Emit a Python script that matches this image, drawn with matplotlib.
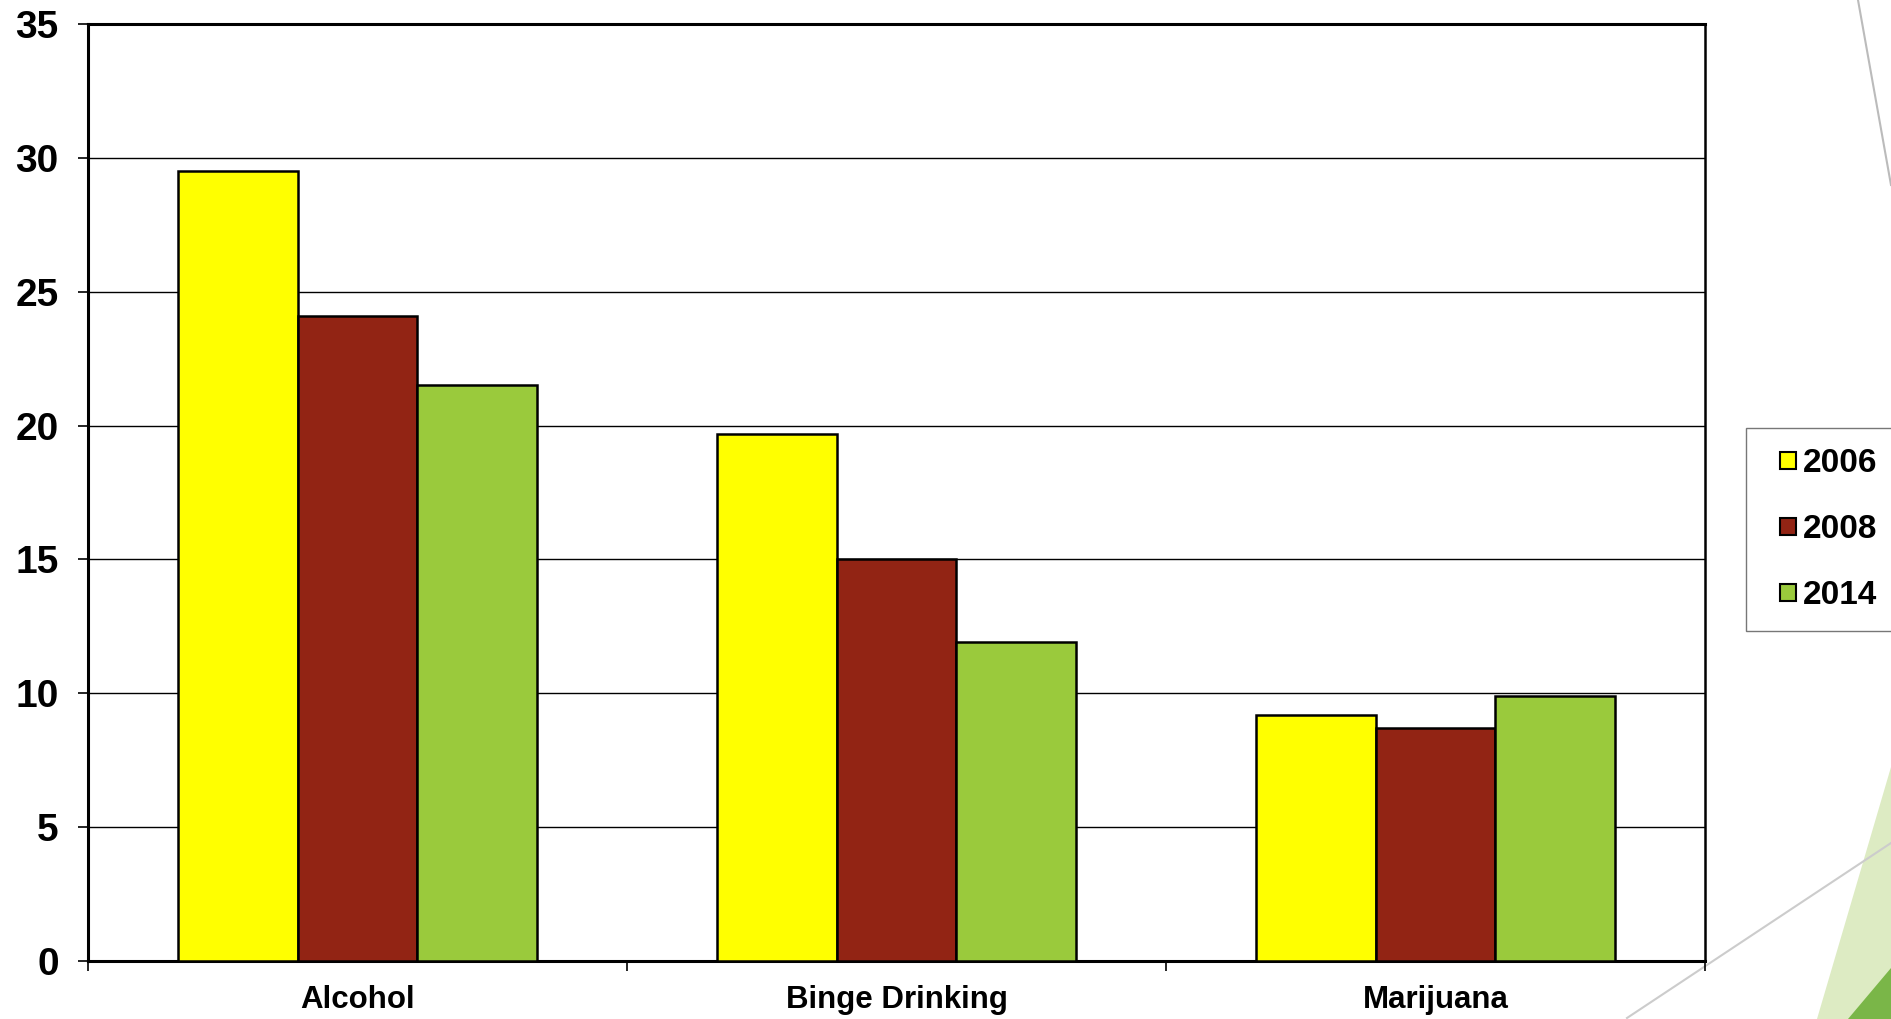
import numpy as np
import matplotlib
matplotlib.use('Agg')
import matplotlib.pyplot as plt
from matplotlib.patches import Polygon, Rectangle
from matplotlib.lines import Line2D
from matplotlib.container import BarContainer
from matplotlib.legend_handler import HandlerPatch, update_from_first_child

## Data
categories = ['Alcohol', 'Binge Drinking', 'Marijuana']
years = ['2006', '2008', '2014']
vals_2006 = [29.5, 19.7, 9.2]
vals_2008 = [24.1, 15.0, 8.7]
vals_2014 = [21.5, 11.9, 9.9]
yticks = [0, 5, 10, 15, 20, 25, 30, 35]

colors = ['#FFFF00', '#922414', '#9ACA3C']

plt.rcParams['font.family'] = ['Liberation Sans', 'DejaVu Sans']
plt.rcParams['font.weight'] = 'bold'

fig = plt.figure(figsize=(18.91, 10.19), dpi=100)
fig.patch.set_facecolor('white')

# slide decorations in the background
fig.add_artist(Polygon([[1817/1891, 0], [1, 0], [1, 1-767/1019]], closed=True,
                       transform=fig.transFigure, facecolor='#DDEBC3', edgecolor='none', zorder=0))
fig.add_artist(Polygon([[1848/1891, 0], [1, 0], [1, 1-968/1019]], closed=True,
                       transform=fig.transFigure, facecolor='#7AB648', edgecolor='none', zorder=0))
fig.add_artist(Line2D([1627/1891, 1], [1-1018/1019, 1-843/1019], transform=fig.transFigure,
                      color='#CCCCCC', lw=1.5, zorder=0))
fig.add_artist(Line2D([1858/1891, 1], [1, 1-185/1019], transform=fig.transFigure,
                      color='#BBBBBB', lw=1.5, zorder=0))

ax = fig.add_axes([88/1891, 1-961/1019, (1705-88)/1891, (961-24)/1019])
ax.set_facecolor('white')

x = np.arange(len(categories))
w = 0.222
series = [vals_2006, vals_2008, vals_2014]
for i, (vals, yr, c) in enumerate(zip(series, years, colors)):
    ax.bar(x + (i - 1) * w, vals, width=w, color=c, edgecolor='black',
           linewidth=1.8, label=yr, zorder=3)

ax.set_xlim(-0.5, len(categories) - 0.5)
ax.set_ylim(0, 35)
ax.set_yticks(yticks)
ax.set_yticklabels([str(t) for t in yticks], fontsize=28, fontweight='bold')
ax.yaxis.grid(True, color='black', linewidth=1.0, zorder=0)
ax.set_axisbelow(True)

ax.set_xticks(x)
ax.set_xticklabels(categories, fontsize=22.5, fontweight='bold')
ax.set_xticks(np.arange(-0.5, len(categories)), minor=True)
ax.tick_params(axis='x', which='major', length=0, pad=17)
ax.tick_params(axis='x', which='minor', length=7, width=1.2, direction='out')
ax.tick_params(axis='y', which='major', length=7, width=1.2, direction='out', pad=14)

for s in ['left', 'bottom', 'top']:
    ax.spines[s].set_linewidth(2.2)
ax.spines['right'].set_linewidth(1.8)


# small legend swatch sitting on the right part of the handle box
def small_box(legend, orig_handle, xdescent, ydescent, width, height, fontsize):
    return Rectangle((-xdescent + 0.45 * width, -ydescent), 0.55 * width, height)


leg = fig.legend(loc='upper left', bbox_to_anchor=(1746/1891, 1-428/1019),
                 frameon=True, fancybox=False, edgecolor='#555555',
                 prop={'size': 24, 'weight': 'bold'}, handlelength=0.9, handleheight=0.4,
                 handletextpad=0.2, labelspacing=1.05, borderpad=0.6, borderaxespad=0,
                 handler_map={BarContainer: HandlerPatch(patch_func=small_box,
                                                         update_func=update_from_first_child)})
leg.get_frame().set_linewidth(1.0)
for h in leg.legend_handles:
    h.set_linewidth(1.5)

fig.savefig('out.png', dpi=100)
